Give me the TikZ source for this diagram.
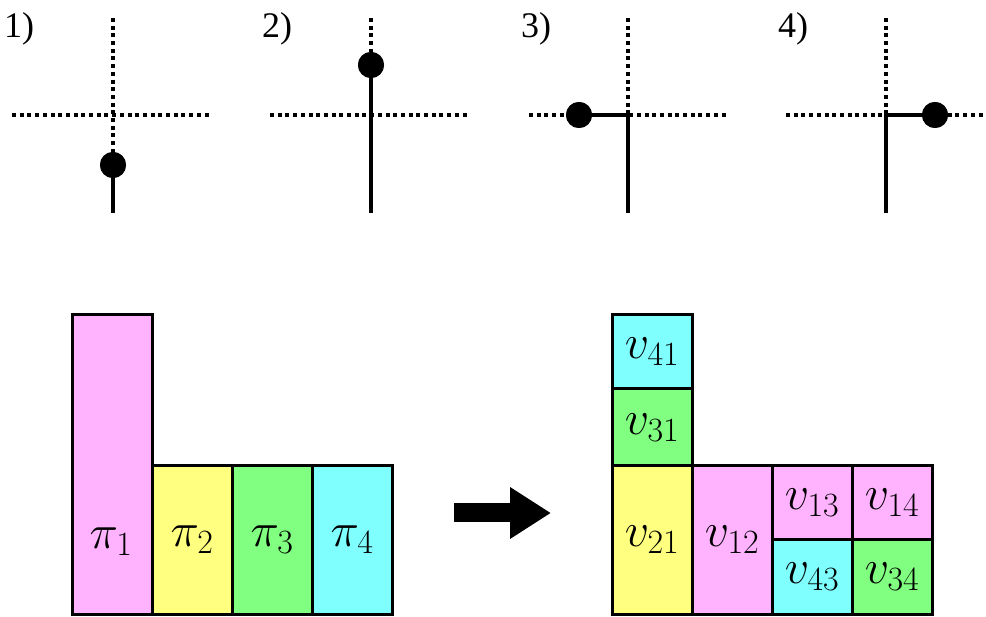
\RequirePackage{fix-cm}
\documentclass[tikz,border=0pt]{standalone}
\usepackage{fontspec}
\setmainfont{lmroman10-regular}[Extension=.otf]
\newfontfamily\labfont{Liberation Serif}
\usetikzlibrary{arrows.meta}
\definecolor{cpink}{HTML}{FFB3FF}
\definecolor{cyel}{HTML}{FFFF80}
\definecolor{cgrn}{HTML}{80FF80}
\definecolor{ccyan}{HTML}{80FFFF}
\DeclareMathSizes{48}{48}{34}{26}
\begin{document}
\begin{tikzpicture}[x=1pt,y=-1pt,
  gridline/.style={line width=3.6pt, dash pattern=on 4pt off 3.7pt},
  seg/.style={line width=4pt},
  dotn/.style={circle, fill=black, minimum size=26pt, inner sep=0pt},
  cell/.style={draw, line width=3pt, inner sep=0pt, font=\fontsize{48}{54}\selectfont},
  num/.style={font=\labfont\fontsize{36}{40}\selectfont, anchor=west, inner sep=0pt},
  txt/.style={inner sep=0pt, font=\fontsize{48}{54}\selectfont}]
\path[use as bounding box] (0,0) rectangle (986,617);

% ---------- panel 1
\node[num] (l1) at (4,29) {1)};
\coordinate (h1a) at (12,115); \coordinate (h1b) at (210,115);
\coordinate (v1t) at (113,18); \coordinate (v1b) at (113,213);
\node[dotn] (d1) at (113,165) {};
\draw[gridline] (h1a) -- (h1b);
\draw[gridline] (v1t) -- (d1.center);
\draw[seg] (d1.center) -- (v1b);
\node[dotn] at (d1) {};

% ---------- panel 2
\node[num] (l2) at (262,29) {2)};
\coordinate (h2a) at (270,115); \coordinate (h2b) at (468,115);
\coordinate (v2t) at (371,18); \coordinate (v2b) at (371,213);
\node[dotn] (d2) at (371,65) {};
\draw[gridline] (h2a) -- (h2b);
\draw[gridline] (v2t) -- (d2.center);
\draw[seg] (d2.center) -- (v2b);
\node[dotn] at (d2) {};

% ---------- panel 3
\node[num] (l3) at (521,29) {3)};
\coordinate (h3a) at (529,115); \coordinate (h3b) at (726,115);
\coordinate (v3t) at (628,18); \coordinate (v3b) at (628,213);
\coordinate (o3) at (628,115);
\node[dotn] (d3) at (579,115) {};
\draw[gridline] (h3a) -- (h3b);
\draw[gridline] (v3t) -- (o3);
\draw[seg] (d3.center) -- (o3) -- (v3b);
\node[dotn] at (d3) {};

% ---------- panel 4
\node[num] (l4) at (778,29) {4)};
\coordinate (h4a) at (786,115); \coordinate (h4b) at (984,115);
\coordinate (v4t) at (886,18); \coordinate (v4b) at (886,213);
\coordinate (o4) at (886,115);
\node[dotn] (d4) at (935,115) {};
\draw[gridline] (h4a) -- (h4b);
\draw[gridline] (v4t) -- (o4);
\draw[seg] (d4.center) -- (o4) -- (v4b);
\node[dotn] at (d4) {};

% ---------- left blocks
\node[cell, fill=cpink, minimum width=80pt, minimum height=299pt] (p1) at (112,464.5) {};
\node[txt] (p1t) at (111,542) {$\pi_1$};
\node[cell, fill=cyel, minimum width=80pt, minimum height=148pt] (p2) at (192,540) {$\pi_2$};
\node[cell, fill=cgrn, minimum width=80pt, minimum height=148pt] (p3) at (272,540) {$\pi_3$};
\node[cell, fill=ccyan, minimum width=80pt, minimum height=148pt] (p4) at (352,540) {$\pi_4$};

% ---------- arrow
\coordinate (a1) at (454,513);
\coordinate (a2) at (551,513);
\draw[line width=19pt, -{Triangle[length=41pt,width=49pt]}] (a1) -- (a2);

% ---------- right blocks
\node[cell, fill=ccyan, minimum width=80pt, minimum height=74pt] (v41) at (652,352) {$v_{41}$};
\node[cell, fill=cgrn, minimum width=80pt, minimum height=77pt] (v31) at (652,427.5) {$v_{31}$};
\node[cell, fill=cyel, minimum width=80pt, minimum height=148pt] (v21) at (652,540) {$v_{21}$};
\node[cell, fill=cpink, minimum width=80pt, minimum height=148pt] (v12) at (732,540) {$v_{12}$};
\node[cell, fill=cpink, minimum width=80pt, minimum height=74pt] (v13) at (812,503) {$v_{13}$};
\node[cell, fill=cpink, minimum width=80pt, minimum height=74pt] (v14) at (892,503) {$v_{14}$};
\node[cell, fill=ccyan, minimum width=80pt, minimum height=74pt] (v43) at (812,577) {$v_{43}$};
\node[cell, fill=cgrn, minimum width=80pt, minimum height=74pt] (v34) at (892,577) {$v_{34}$};
\end{tikzpicture}
\end{document}
